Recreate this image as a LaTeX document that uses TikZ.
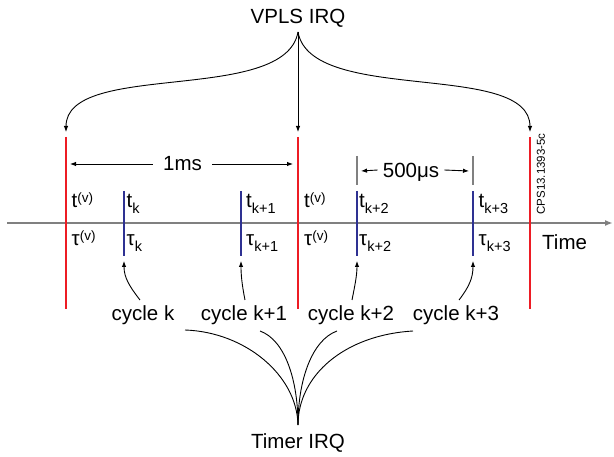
\documentclass[tikz,border=0pt]{standalone}
\usepackage{fontspec}
\setmainfont{Liberation Sans}
\usetikzlibrary{arrows.meta}
\definecolor{vred}{RGB}{237,28,36}
\definecolor{tblue}{RGB}{46,49,146}
\definecolor{axgray}{RGB}{128,128,128}
\newcommand{\mysup}[1]{\raisebox{5pt}{\fontsize{13.5}{14}\selectfont #1}}
\newcommand{\mysub}[1]{\raisebox{-6pt}{\fontsize{14.5}{15}\selectfont #1}}
\begin{document}
\begin{tikzpicture}[x=1pt,y=-1pt,
  txt/.style={font=\fontsize{20.5}{24}\selectfont, inner sep=0pt},
  arr/.style={-{Latex[length=6pt,width=4.5pt]}, line width=0.9pt},
  link/.style={line width=0.9pt},
  vline/.style={vred, line width=2pt},
  tline/.style={tblue, line width=2pt},
  gline/.style={axgray, line width=2pt}]
\useasboundingbox (0,0) rectangle (614,457);

% time axis
\coordinate (ax0) at (7,223);
\coordinate (ax1) at (613,223);
\draw[gline, -{Latex[length=8pt,width=6pt]}] (ax0) -- (ax1);

% red VPLS lines
\foreach \n/\x in {1/66,2/298,3/530}{
  \coordinate (rt\n) at (\x,137);
  \coordinate (rb\n) at (\x,309);
  \coordinate (ra\n) at (\x,132);
  \draw[vline] (rt\n) -- (rb\n);
}
% blue timer lines
\foreach \n/\x in {1/124,2/241,3/357,4/473}{
  \coordinate (bt\n) at (\x,191);
  \coordinate (bb\n) at (\x,256);
  \coordinate (ba\n) at (\x,261);
  \draw[tline] (bt\n) -- (bb\n);
}

% VPLS IRQ
\node[txt, anchor=base] (vpls) at (298,24) {VPLS IRQ};
\coordinate (vb) at (298,32);
\draw[arr] (vb) .. controls (285,105) and (66,60) .. (ra1);
\draw[arr] (vb) -- (ra2);
\draw[arr] (vb) .. controls (311,105) and (530,60) .. (ra3);

% 1ms
\coordinate (msl) at (70,164);
\coordinate (msr) at (293,164);
\node[txt, inner xsep=10pt] (ms) at (182.5,164) {1ms};
\draw[arr] (ms.west) -- (msl);
\draw[arr] (ms.east) -- (msr);

% 500us
\coordinate (g1t) at (357,156); \coordinate (g1b) at (357,185);
\coordinate (g2t) at (473,156); \coordinate (g2b) at (473,185);
\draw[gline, line width=1.8pt] (g1t) -- (g1b);
\draw[gline, line width=1.8pt] (g2t) -- (g2b);
\coordinate (usl) at (361,171);
\coordinate (usr) at (469,171);
\node[txt, inner xsep=5pt, text depth=0pt] (us) at (411,170) {500μs};
\draw[arr] (us.west) -- (usl);
\draw[arr] (us.east) -- (usr);

% labels above axis
\node[txt, anchor=base west] (t1) at (71.5,208) {t\mysup{(v)}};
\node[txt, anchor=base west] (t2) at (126.5,208) {t\mysub{k}};
\node[txt, anchor=base west] (t3) at (246,208) {t\mysub{k+1}};
\node[txt, anchor=base west] (t4) at (304,208) {t\mysup{(v)}};
\node[txt, anchor=base west] (t5) at (359,208) {t\mysub{k+2}};
\node[txt, anchor=base west] (t6) at (478.5,208) {t\mysub{k+3}};
% labels below axis
\node[txt, anchor=base west] (u1) at (71.5,246) {τ\mysup{(v)}};
\node[txt, anchor=base west] (u2) at (126.5,246) {τ\mysub{k}};
\node[txt, anchor=base west] (u3) at (246,246) {τ\mysub{k+1}};
\node[txt, anchor=base west] (u4) at (304,246) {τ\mysup{(v)}};
\node[txt, anchor=base west] (u5) at (359,246) {τ\mysub{k+2}};
\node[txt, anchor=base west] (u6) at (478.5,246) {τ\mysub{k+3}};
\node[txt, anchor=base west] (time) at (542,250) {Time};

% CPS tag
\node[font=\fontsize{11.5}{12}\selectfont, rotate=90, inner sep=0pt] (cps) at (541,174) {CPS13.1393-5c};

% cycles
\node[txt, anchor=base] (c1) at (143,321) {cycle k};
\node[txt, anchor=base] (c2) at (244,321) {cycle k+1};
\node[txt, anchor=base] (c3) at (351,321) {cycle k+2};
\node[txt, anchor=base] (c4) at (456,321) {cycle k+3};
\coordinate (cs1) at (140,300);
\coordinate (cs2) at (245,300);
\coordinate (cs3) at (352,300);
\coordinate (cs4) at (459,300);
\draw[arr] (cs1) .. controls (130,287) and (124,278) .. (ba1);
\draw[arr] (cs2) .. controls (242,285) and (241,275) .. (ba2);
\draw[arr] (cs3) .. controls (355,285) and (357,275) .. (ba3);
\draw[arr] (cs4) .. controls (469,287) and (473,278) .. (ba4);

% Timer IRQ
\node[txt, anchor=base] (timer) at (298,449) {Timer IRQ};
\coordinate (tb) at (298,425);
\coordinate (ce1) at (185,330);
\coordinate (ce2) at (260,331);
\coordinate (ce3) at (337,331);
\coordinate (ce4) at (413,331);
\draw[link] (tb) .. controls (297,375) and (245,332) .. (ce1);
\draw[link] (tb) .. controls (298,380) and (285,340) .. (ce2);
\draw[link] (tb) .. controls (298,380) and (312,340) .. (ce3);
\draw[link] (tb) .. controls (298,375) and (345,335) .. (ce4);
\end{tikzpicture}
\end{document}
